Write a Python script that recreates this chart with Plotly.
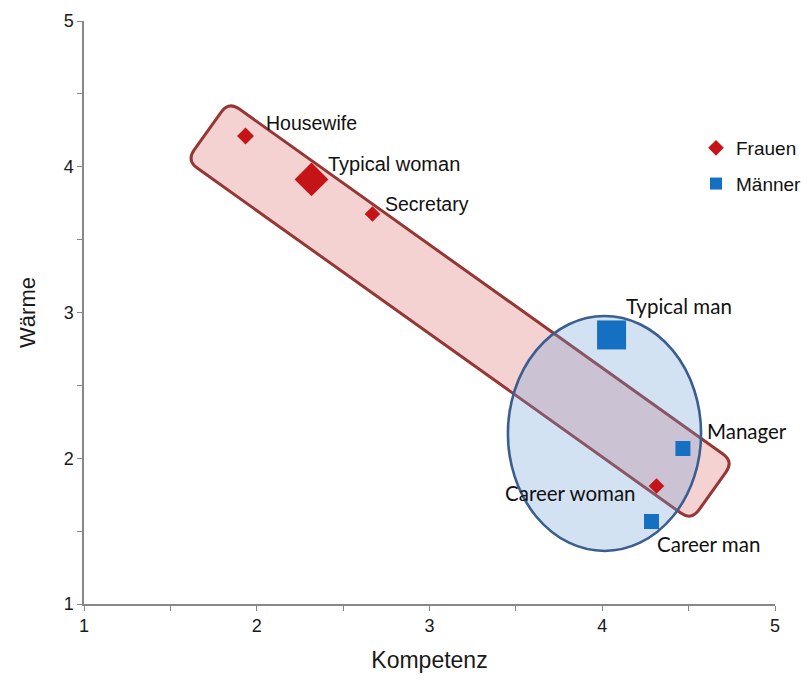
import math
import plotly.graph_objects as go

# Stereotype content: competence (x) vs. warmth (y)
women_labels = ["Housewife", "Typical woman", "Secretary", "Career woman"]
women_komp = [1.935, 2.317, 2.670, 4.314]
women_waerme = [4.211, 3.913, 3.676, 1.810]

men_labels = ["Typical man", "Manager", "Career man"]
men_komp = [4.054, 4.467, 4.285]
men_waerme = [2.846, 2.067, 1.566]

x_ticks = [1, 2, 3, 4, 5]
y_ticks = [1, 2, 3, 4, 5]

# figure geometry
W, H = 807, 683
ML, MR, MT, MB = 84, 32, 21, 79
XR, YR = [1, 5], [1, 5]
PW, PH = W - ML - MR, H - MT - MB
SX = PW / (XR[1] - XR[0])
SY = PH / (YR[1] - YR[0])

RED = "#C41418"
BLUE = "#1670C2"

def to_px(x, y):
    return ML + (x - XR[0]) * SX, MT + (YR[1] - y) * SY

def to_data(px, py):
    return XR[0] + (px - ML) / SX, YR[1] - (py - MT) / SY

def rounded_band(cx, cy, length, width, angle_deg, radius):
    """Rotated rounded rectangle (screen angle), returned as an SVG path in data units."""
    pcx, pcy = to_px(cx, cy)
    t = math.radians(angle_deg)
    ux, uy = math.cos(t), math.sin(t)
    nx, ny = -uy, ux
    hl, hw = length / 2, width / 2
    corners = [
        (pcx - hl * ux - hw * nx, pcy - hl * uy - hw * ny),
        (pcx + hl * ux - hw * nx, pcy + hl * uy - hw * ny),
        (pcx + hl * ux + hw * nx, pcy + hl * uy + hw * ny),
        (pcx - hl * ux + hw * nx, pcy - hl * uy + hw * ny),
    ]
    parts = []
    n = len(corners)
    for i, c in enumerate(corners):
        p = corners[i - 1]
        q = corners[(i + 1) % n]
        dp = math.hypot(p[0] - c[0], p[1] - c[1])
        dq = math.hypot(q[0] - c[0], q[1] - c[1])
        a = (c[0] + radius * (p[0] - c[0]) / dp, c[1] + radius * (p[1] - c[1]) / dp)
        b = (c[0] + radius * (q[0] - c[0]) / dq, c[1] + radius * (q[1] - c[1]) / dq)
        A, C, B = to_data(*a), to_data(*c), to_data(*b)
        parts.append(("M" if i == 0 else "L") + f"{A[0]:.5f},{A[1]:.5f}")
        parts.append(f"Q{C[0]:.5f},{C[1]:.5f} {B[0]:.5f},{B[1]:.5f}")
    return " ".join(parts) + " Z"

fig = go.Figure()

fig.add_trace(go.Scatter(
    x=women_komp, y=women_waerme, mode="markers", name="Frauen",
    marker=dict(symbol="diamond", color=RED, size=[13, 26, 12, 12],
                opacity=1, line=dict(width=0)),
    legendgroup="f", hoverinfo="skip",
))
fig.add_trace(go.Scatter(
    x=men_komp, y=men_waerme, mode="markers", name="Männer",
    marker=dict(symbol="square", color=BLUE, size=[29, 15, 15],
                opacity=1, line=dict(width=0)),
    legendgroup="m", hoverinfo="skip",
))

# band around the female stereotypes, ellipse around the male/career cluster
fig.add_shape(
    type="path", path=rounded_band(3.177, 3.010, 620, 72.5, 35.5, 13),
    xref="x", yref="y", layer="below",
    fillcolor="rgba(215,95,95,0.28)", line=dict(color="#953735", width=3),
)
fig.add_shape(
    type="circle", xref="x", yref="y", layer="below",
    x0=3.454, x1=4.572, y0=1.364, y1=2.976,
    fillcolor="rgba(110,160,215,0.30)", line=dict(color="#3B5E8F", width=2.6),
)

# point labels: (xshift, yshift, anchor, font family, size)
ARIAL = "Liberation Sans, Arial, sans-serif"
CALI = "Lato, Carlito, Calibri, sans-serif"
label_style = {
    "Housewife": (19, 13, "left", ARIAL, 19.5),
    "Typical woman": (15, 15, "left", ARIAL, 20),
    "Secretary": (12, 10, "left", ARIAL, 19.5),
    "Career woman": (-19, -7, "right", CALI, 20.5),
    "Typical man": (13, 29, "left", CALI, 20.5),
    "Manager": (23, 17, "left", CALI, 20.5),
    "Career man": (5, -22, "left", CALI, 20.5),
}
for labels, xs, ys in ((women_labels, women_komp, women_waerme),
                       (men_labels, men_komp, men_waerme)):
    for lab, xv, yv in zip(labels, xs, ys):
        dx, dy, anchor, fam, fs = label_style[lab]
        fig.add_annotation(
            x=xv, y=yv, text=lab, showarrow=False, xanchor=anchor, yanchor="middle",
            xshift=dx, yshift=dy, borderpad=0,
            font=dict(family=fam, size=fs, color="#111111"),
        )

axis_common = dict(
    showline=True, linecolor="#878787", linewidth=1.5,
    ticks="outside", ticklen=5, tickcolor="#878787", tickwidth=1.2,
    showgrid=False, zeroline=False,
    tickfont=dict(family=ARIAL, size=18, color="#1a1a1a"),
    minor=dict(ticks="outside", dtick=0.5, ticklen=5, tickcolor="#878787", tickwidth=1.2),
)

fig.update_layout(
    width=W, height=H,
    margin=dict(l=ML, r=MR, t=MT, b=MB, autoexpand=False),
    paper_bgcolor="white", plot_bgcolor="white",
    xaxis=dict(range=XR, tickvals=x_ticks, **axis_common,
               title=dict(text="Kompetenz", standoff=17,
                          font=dict(family=ARIAL, size=23, color="#1a1a1a"))),
    yaxis=dict(range=YR, tickvals=y_ticks, **axis_common,
               title=dict(text="Wärme", standoff=22,
                          font=dict(family=ARIAL, size=22, color="#1a1a1a"))),
    showlegend=True,
    legend=dict(
        x=(696 - ML) / PW, xanchor="left", y=1 - (129 - MT) / PH, yanchor="top",
        font=dict(family=ARIAL, size=19, color="#111111"),
        bgcolor="rgba(0,0,0,0)", itemsizing="constant",
        traceorder="grouped", tracegroupgap=8,
    ),
)

fig.write_html("out.html")
